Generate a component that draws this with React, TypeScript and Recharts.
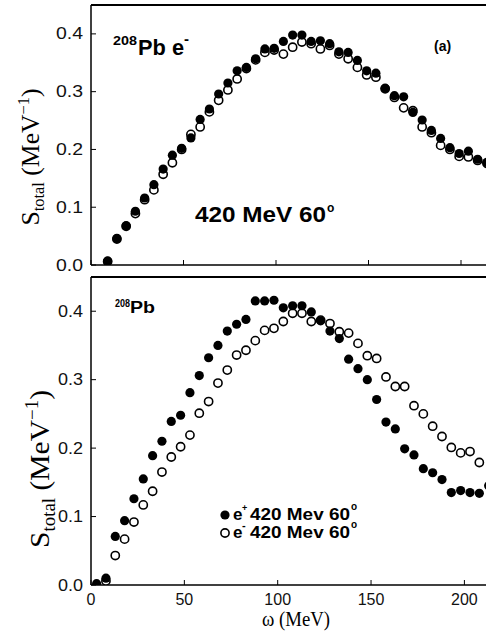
import React from 'react';
import { ScatterChart, Scatter, XAxis, YAxis, ReferenceLine } from 'recharts';

// panel (a): omega grid and S_total values
const topOmega = [9, 14, 19, 24, 29, 34, 39, 44, 49, 54, 59, 64, 69, 74, 79, 84, 89, 94, 99, 104, 109,
  114, 119, 124, 129, 134, 139, 144, 149, 154, 159, 164, 169, 174, 179, 184, 189, 194, 199, 204, 209, 214];
const topFilled = [0.007, 0.046, 0.068, 0.093, 0.116, 0.139, 0.166, 0.19, 0.202, 0.22, 0.252, 0.27, 0.296,
  0.315, 0.336, 0.342, 0.357, 0.374, 0.375, 0.387, 0.398, 0.398, 0.387, 0.388, 0.383, 0.369, 0.368, 0.354,
  0.336, 0.332, 0.306, 0.293, 0.291, 0.264, 0.251, 0.233, 0.219, 0.203, 0.193, 0.197, 0.183, 0.178];
const topOpen = [0.006, 0.045, 0.067, 0.089, 0.113, 0.13, 0.157, 0.177, 0.2, 0.226, 0.239, 0.265, 0.285,
  0.303, 0.322, 0.34, 0.355, 0.368, 0.372, 0.365, 0.377, 0.386, 0.383, 0.374, 0.38, 0.365, 0.357, 0.342,
  0.329, 0.325, 0.305, 0.29, 0.272, 0.267, 0.239, 0.229, 0.207, 0.2, 0.188, 0.187, 0.181, 0.176];

// lower panel: e+ (filled) and e- (open)
const botOmegaFilled = [3, 8, 13, 18, 23, 28, 33, 38, 43, 48, 53, 58, 63, 68, 73, 78, 83, 88, 93, 98, 103,
  108, 113, 118, 123, 128, 133, 138, 143, 148, 153, 158, 163, 168, 173, 178, 183, 188, 193, 198, 203, 208, 213];
const botFilled = [0.002, 0.01, 0.071, 0.094, 0.126, 0.155, 0.189, 0.21, 0.239, 0.248, 0.281, 0.306, 0.332,
  0.35, 0.371, 0.381, 0.388, 0.415, 0.415, 0.416, 0.405, 0.408, 0.408, 0.399, 0.386, 0.371, 0.36, 0.33,
  0.316, 0.3, 0.271, 0.238, 0.228, 0.199, 0.19, 0.17, 0.164, 0.154, 0.135, 0.138, 0.135, 0.134, 0.145];
const botOmegaOpen = [8, 13, 18, 23, 28, 33, 38, 43, 48, 53, 58, 63, 68, 73, 78, 83, 88, 93, 98, 103, 108,
  113, 118, 123, 128, 133, 138, 143, 148, 153, 158, 163, 168, 173, 178, 183, 188, 193, 198, 203, 208];
const botOpen = [0.006, 0.043, 0.067, 0.092, 0.117, 0.137, 0.165, 0.187, 0.202, 0.219, 0.251, 0.268, 0.295,
  0.314, 0.336, 0.343, 0.357, 0.372, 0.375, 0.385, 0.397, 0.397, 0.385, 0.387, 0.382, 0.37, 0.368, 0.353,
  0.335, 0.331, 0.304, 0.29, 0.29, 0.262, 0.25, 0.232, 0.217, 0.201, 0.193, 0.195, 0.179];

const xTicks = [0, 50, 100, 150, 200];
const yTicks = [0, 0.1, 0.2, 0.3, 0.4];

const pts = (xs: number[], ys: number[]) => xs.map((w, i) => ({ w, s: ys[i] }));

const SANS = '"Liberation Sans", Arial, Helvetica, sans-serif';
const SERIF = '"Liberation Serif", "Times New Roman", serif';
const axisStyle = { stroke: '#000', strokeWidth: 1.5 };

const Dot = (p: any) => <circle cx={p.cx} cy={p.cy} r={4.6} fill="#000" />;
const Ring = (p: any) => <circle cx={p.cx} cy={p.cy} r={4.1} fill="#fff" stroke="#000" strokeWidth={1.6} />;

const YTick = (p: any) => (
  <text x={p.x} y={p.y} textAnchor="end" dominantBaseline="central" fontSize={16} fontFamily={SANS}
    fill="#111" textLength={p.len} lengthAdjust="spacingAndGlyphs">
    {p.payload.value.toFixed(1)}
  </text>
);

const Panel = ({ top, height, marginTop, bottomPad, domainMax, filled, open, showX }: any) => (
  <div style={{ position: 'absolute', left: 0, top, width: 520, height }}>
    <ScatterChart width={520} height={height} margin={{ top: marginTop, right: 22, bottom: 0, left: 0 }}>
      <XAxis type="number" dataKey="w" domain={[0, domainMax]} ticks={xTicks} allowDataOverflow
        height={bottomPad} axisLine={axisStyle} tickLine={{ stroke: '#000' }} tickSize={-5} tickMargin={14}
        tickFormatter={showX ? (v: number) => String(v) : () => ''}
        tick={{ fontSize: 16, fontFamily: SANS, fill: '#111' }} />
      <YAxis type="number" dataKey="s" domain={[0, 0.45]} ticks={yTicks} allowDataOverflow width={91}
        axisLine={axisStyle} tickLine={{ stroke: '#000' }} tickSize={-5} tickMargin={13}
        tick={(p: any) => <YTick {...p} len={showX ? 25 : 27} />} />
      <ReferenceLine y={0.45} stroke="#000" strokeWidth={2} />
      <Scatter data={open} shape={Ring} isAnimationActive={false} />
      <Scatter data={filled} shape={Dot} isAnimationActive={false} />
    </ScatterChart>
  </div>
);

const Annotations = () => (
  <svg width={486} height={637} style={{ position: 'absolute', left: 0, top: 0, pointerEvents: 'none' }}>
    <g fontFamily={SANS} fontWeight="bold" fill="#000">
      {/* panel (a) */}
      <text x={113} y={45} fontSize={13} textLength={24} lengthAdjust="spacingAndGlyphs">208</text>
      <text x={138} y={55} fontSize={22} textLength={46} lengthAdjust="spacingAndGlyphs">Pb e</text>
      <text x={184} y={44} fontSize={15}>-</text>
      <text x={195} y={222} fontSize={22} textLength={131} lengthAdjust="spacingAndGlyphs">420 MeV 60</text>
      <text x={327} y={212} fontSize={12}>o</text>
      <text x={434} y={51} fontSize={14}>(a)</text>
      {/* lower panel */}
      <text x={115} y={307} fontSize={10} textLength={15} lengthAdjust="spacingAndGlyphs">208</text>
      <text x={130} y={313} fontSize={16} textLength={25} lengthAdjust="spacingAndGlyphs">Pb</text>
      <circle cx={225} cy={515} r={4.6} fill="#000" />
      <text x={233} y={520} fontSize={17}>e</text>
      <text x={242} y={511} fontSize={9}>+</text>
      <text x={250} y={520} fontSize={17} textLength={100} lengthAdjust="spacingAndGlyphs">420 Mev 60</text>
      <text x={351} y={510} fontSize={10}>o</text>
      <circle cx={225} cy={533} r={4.1} fill="#fff" stroke="#000" strokeWidth={1.6} />
      <text x={233} y={538} fontSize={17}>e</text>
      <text x={242} y={529} fontSize={11}>-</text>
      <text x={250} y={538} fontSize={17} textLength={100} lengthAdjust="spacingAndGlyphs">420 Mev 60</text>
      <text x={351} y={528} fontSize={10}>o</text>
    </g>
    <g fontFamily={SERIF} fill="#000">
      <text transform="translate(39,157) rotate(-90)" textAnchor="middle" fontSize={25} textLength={137}
        lengthAdjust="spacingAndGlyphs">
        S<tspan fontSize={16} dy={5}>total</tspan><tspan dy={-5}> (MeV</tspan>
        <tspan fontSize={16} dy={-10}>−1</tspan><tspan dy={10}>)</tspan>
      </text>
      <text transform="translate(49,469) rotate(-90)" textAnchor="middle" fontSize={28} textLength={158}
        lengthAdjust="spacingAndGlyphs">
        S<tspan fontSize={18} dy={6}>total</tspan><tspan dy={-6}> (MeV</tspan>
        <tspan fontSize={18} dy={-11}>−1</tspan><tspan dy={11}>)</tspan>
      </text>
      <text x={262} y={626} fontSize={20} textLength={68} lengthAdjust="spacingAndGlyphs">ω (MeV)</text>
    </g>
  </svg>
);

export default function App() {
  return (
    <div style={{ position: 'absolute', left: 0, top: 0, width: 486, height: 637, overflow: 'hidden', background: '#fff' }}>
      <Panel top={0} height={280} marginTop={5} bottomPad={15} domainMax={220} showX={false}
        filled={pts(topOmega, topFilled)} open={pts(topOmega, topOpen)} />
      <Panel top={270} height={367} marginTop={7} bottomPad={52} domainMax={218} showX
        filled={pts(botOmegaFilled, botFilled)} open={pts(botOmegaOpen, botOpen)} />
      <Annotations />
    </div>
  );
}
